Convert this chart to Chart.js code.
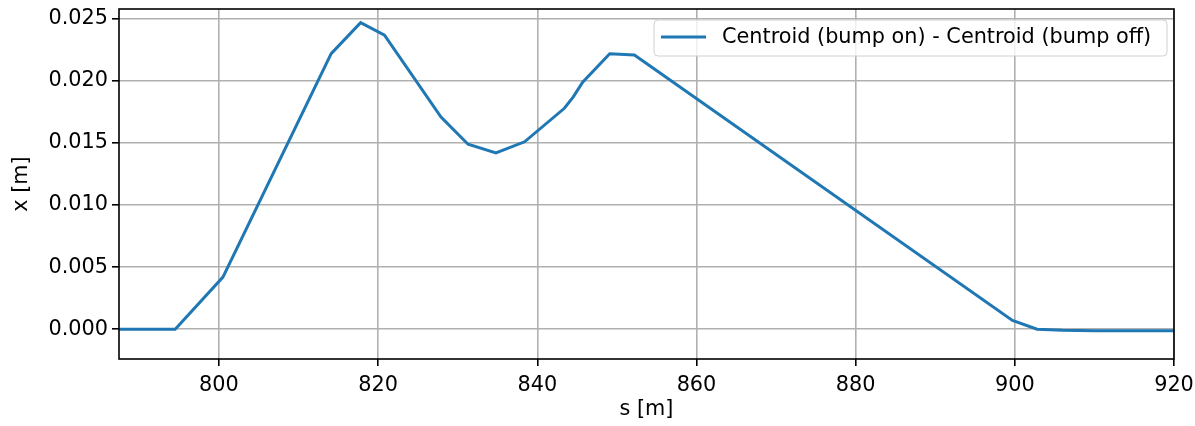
<!DOCTYPE html>
<html>
<head>
<meta charset="utf-8">
<script src="https://cdn.jsdelivr.net/npm/chart.js@4"></script>
<style>
  html, body { margin: 0; padding: 0; background: #fff; }
  #wrap { width: 1195px; height: 426px; position: relative; }
</style>
</head>
<body>
<div id="wrap"><canvas id="chartCentroid"></canvas></div>
<script>
// s position [m]
const sValues = [787.4, 794.5, 800.5, 814.1, 817.8, 820.8, 827.9, 831.3, 834.8, 838.4,
  843.4, 844.5, 845.7, 849.1, 852.2, 899.7, 902.8, 906.0, 910.0, 920.0];
// centroid difference x [m]
const xValues = [0.0, 0.0, 0.0042, 0.0222, 0.0247, 0.0237, 0.0171, 0.0149, 0.0142, 0.0151,
  0.0178, 0.0187, 0.0199, 0.0222, 0.0221, 0.0007, 0.0, -0.00008, -0.00012, -0.00012];

const xTicks = [800, 820, 840, 860, 880, 900, 920];
const yTicks = [0.0, 0.005, 0.010, 0.015, 0.020, 0.025];
const seriesLabel = "Centroid (bump on) - Centroid (bump off)";

const FONT = "'DejaVu Sans', sans-serif";
const lineColor = "#1f77b4";

// frame + legend drawn like matplotlib
const framePlugin = {
  id: "frame",
  afterDraw(chart) {
    const { ctx, chartArea: a } = chart;
    ctx.save();
    ctx.strokeStyle = "#000";
    ctx.lineWidth = 1.6;
    ctx.strokeRect(a.left, a.top, a.right - a.left, a.bottom - a.top);

    // legend box
    const bx = 654, by = 20, bw = 513, bh = 36, r = 4;
    ctx.beginPath();
    ctx.roundRect(bx, by, bw, bh, r);
    ctx.fillStyle = "rgba(255,255,255,0.8)";
    ctx.fill();
    ctx.strokeStyle = "#d0d0d0";
    ctx.lineWidth = 1;
    ctx.stroke();

    ctx.beginPath();
    ctx.moveTo(661, 37);
    ctx.lineTo(706, 37);
    ctx.strokeStyle = lineColor;
    ctx.lineWidth = 3;
    ctx.stroke();

    ctx.fillStyle = "#000";
    ctx.font = "20.8px " + FONT;
    ctx.textBaseline = "middle";
    ctx.textAlign = "left";
    ctx.fillText(chart.data.datasets[0].label, 722, 38);
    ctx.restore();
  }
};

document.addEventListener("DOMContentLoaded", function () {
  const ctx = document.getElementById("chartCentroid");
  new Chart(ctx, {
    type: "scatter",
    data: {
      datasets: [{
        label: seriesLabel,
        data: sValues.map((s, i) => ({ x: s, y: xValues[i] })),
        showLine: true,
        borderColor: lineColor,
        borderWidth: 3,
        pointRadius: 0,
        tension: 0
      }]
    },
    options: {
      responsive: true,
      maintainAspectRatio: false,
      animation: false,
      layout: { padding: { top: 9, right: 21, left: 0, bottom: 0 } },
      plugins: {
        legend: { display: false },
        tooltip: { enabled: false }
      },
      scales: {
        x: {
          type: "linear",
          min: 787.44,
          max: 920,
          afterFit: (s) => { s.height = 67; s.paddingLeft = 0; s.paddingRight = 0; },
          afterBuildTicks: (s) => { s.ticks = xTicks.map(v => ({ value: v })); },
          grid: { color: "#b0b0b0", lineWidth: 1.6, tickLength: 7, tickColor: "#000", tickWidth: 1.6 },
          border: { display: false },
          ticks: {
            padding: 7,
            color: "#000",
            font: { family: FONT, size: 20.8 },
            maxRotation: 0,
            callback: (v) => String(v)
          },
          title: {
            display: true,
            text: "s [m]",
            color: "#000",
            font: { family: FONT, size: 20.8 },
            padding: { top: 0, bottom: 4 }
          }
        },
        y: {
          min: -0.0024,
          max: 0.0258,
          afterFit: (s) => { s.width = 119; s.paddingTop = 0; s.paddingBottom = 0; },
          afterBuildTicks: (s) => { s.ticks = yTicks.map(v => ({ value: v })); },
          grid: { color: "#b0b0b0", lineWidth: 1.6, tickLength: 7, tickColor: "#000", tickWidth: 1.6 },
          border: { display: false },
          ticks: {
            padding: 4,
            color: "#000",
            font: { family: FONT, size: 20.8 },
            callback: (v) => Number(v).toFixed(3)
          },
          title: {
            display: true,
            text: "x [m]",
            color: "#000",
            font: { family: FONT, size: 20.8 },
            padding: { top: 9, bottom: 0 }
          }
        }
      }
    },
    plugins: [framePlugin]
  });
});
</script>
</body>
</html>
